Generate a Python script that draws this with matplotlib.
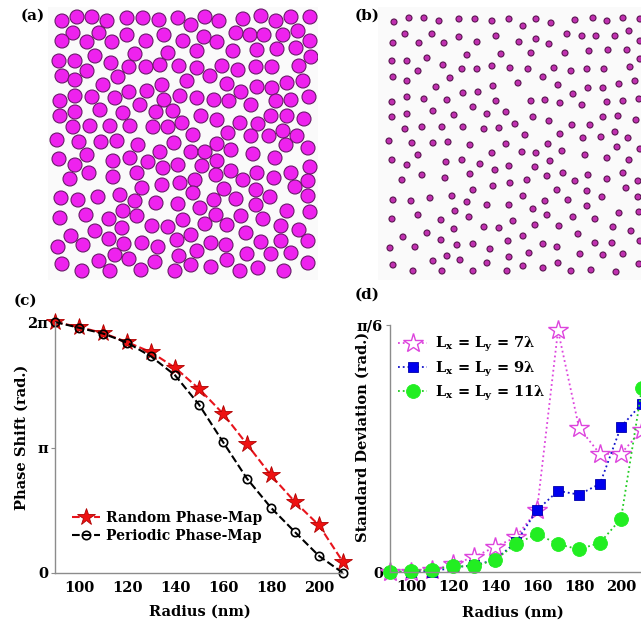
import matplotlib
matplotlib.use("Agg")
import matplotlib.pyplot as plt
import numpy as np
from matplotlib.patches import Circle

# ---- panel (a): dense random array of large pillars (positions in px of the panel) ----
a_x = [9, 24, 39, 54, 74, 90, 106, 125, 20, 46, 9, 34, 59, 74, 93, 111, 130, 42, 82, 115,
       6, 22, 58, 76, 93, 107, 126, 34, 9, 22, 65, 50, 76, 94, 109, 127, 22, 39, 62, 7,
       111, 47, 87, 103, 120, 22, 7, 70, 20, 37, 57, 77, 100, 115, 129, 4, 26, 48, 64, 85,
       121, 34, 6, 60, 77, 107, 95, 22, 110, 125, 36, 84, 60, 17, 109, 127, 89, 8, 25, 45,
       67, 82, 103, 125, 70, 33, 7, 56, 84, 115, 99, 130, 18, 42, 69, 56, 71, 89, 124, 105,
       5, 30, 46, 62, 76, 9, 29, 57, 88, 102, 122, 126,
       152, 166, 190, 208, 223, 238, 257, 138, 183, 197, 211, 230, 245, 151, 164, 257, 144, 180, 204, 224,
       243, 258, 144, 169, 185, 203, 219, 246, 157, 134, 174, 188, 204, 219, 234, 250, 144, 161, 176, 198,
       223, 238, 256, 148, 164, 187, 205, 218, 234, 251, 140, 175, 198, 216, 230, 244, 164, 178, 138, 152,
       200, 222, 233, 255, 164, 149, 178, 163, 204, 190, 221, 238, 257, 142, 171, 203, 217, 140, 161, 183,
       242, 255, 255, 147, 203, 163, 188, 210, 234, 257, 152, 174, 228, 246, 138, 193, 158, 173, 208, 228,
       255, 144, 194, 218, 238, 174, 138, 158, 187, 205, 231, 255]
a_y = [9, 5, 5, 9, 6, 6, 8, 6, 21, 21, 29, 30, 30, 23, 29, 23, 29, 44, 42, 41,
       49, 49, 51, 55, 55, 53, 54, 59, 64, 68, 65, 73, 80, 79, 73, 84, 84, 85, 86, 89,
       88, 98, 93, 100, 99, 100, 104, 101, 115, 114, 114, 114, 115, 115, 111, 128, 130, 130, 129, 133,
       131, 143, 147, 149, 146, 140, 150, 153, 156, 153, 161, 161, 165, 167, 173, 171, 176, 186, 188, 185,
       183, 189, 191, 192, 199, 203, 206, 207, 204, 215, 214, 208, 224, 219, 216, 227, 232, 231, 228, 235,
       235, 233, 249, 243, 247, 252, 259, 259, 258, 250, 259, 244,
       5, 9, 7, 4, 9, 5, 5, 13, 21, 23, 23, 23, 19, 25, 30, 29, 39, 39, 38, 37,
       36, 45, 56, 54, 58, 55, 55, 54, 64, 69, 72, 80, 75, 76, 71, 69, 86, 88, 89, 93,
       89, 88, 85, 104, 108, 111, 112, 104, 104, 107, 123, 121, 124, 124, 119, 124, 132, 138, 140, 140,
       142, 146, 133, 136, 149, 154, 159, 163, 161, 168, 166, 161, 155, 168, 177, 178, 185, 181, 188, 187,
       175, 169, 184, 196, 193, 203, 204, 207, 199, 200, 212, 213, 214, 218, 223, 221, 231, 233, 230, 229,
       229, 239, 242, 242, 241, 248, 253, 255, 259, 256, 259, 251]

# ---- panel (b): same area, small pillars ----
b_x = [11, 26, 41, 56, 76, 92, 109, 126, 22, 49, 10, 36, 61, 76, 94, 113, 84, 118, 44, 9,
       24, 60, 79, 94, 109, 127, 35, 10, 24, 67, 53, 110, 80, 95, 24, 41, 64, 9, 113, 90,
       50, 123, 24, 9, 71, 104, 22, 39, 59, 80, 101, 116, 6, 29, 50, 65, 87, 123, 35, 109,
       9, 63, 79, 97, 24, 112, 126, 39, 87, 19, 62, 110, 127, 90, 10, 28, 47, 69, 84, 104,
       126, 72, 35, 9, 58, 86, 101, 116, 130, 71, 44, 20, 58, 74, 90, 125, 107, 7, 32, 50,
       64, 77, 126, 10, 30, 59, 90, 104, 124,
       140, 153, 168, 192, 210, 224, 240, 257, 136, 153, 166, 184, 199, 213, 232, 246, 257, 148, 182, 206,
       225, 244, 257, 145, 171, 188, 204, 221, 247, 160, 135, 175, 190, 205, 220, 236, 252, 148, 162, 177,
       199, 224, 240, 256, 150, 132, 166, 189, 207, 220, 235, 253, 142, 177, 200, 218, 232, 245, 165, 139,
       153, 179, 202, 224, 234, 246, 257, 167, 152, 180, 164, 205, 240, 144, 192, 224, 255, 174, 204, 243,
       140, 162, 185, 219, 255, 150, 204, 164, 190, 212, 236, 256, 152, 176, 230, 248, 195, 140, 160, 174,
       212, 229, 257, 146, 197, 220, 240, 140, 160, 175, 188, 208, 233, 256]
b_y = [10, 6, 6, 9, 7, 7, 9, 7, 22, 22, 31, 31, 31, 25, 30, 24, 43, 42, 46, 49,
       49, 53, 57, 57, 54, 56, 59, 65, 69, 66, 75, 74, 81, 80, 85, 87, 88, 90, 89, 95,
       99, 100, 102, 105, 103, 102, 117, 115, 115, 115, 117, 116, 129, 131, 131, 130, 133, 132, 143, 141,
       148, 150, 148, 152, 153, 158, 154, 163, 162, 168, 166, 174, 171, 178, 188, 189, 186, 184, 190, 193,
       193, 199, 203, 207, 208, 205, 215, 216, 209, 217, 221, 225, 228, 233, 232, 229, 237, 236, 235, 249,
       244, 248, 245, 253, 259, 259, 259, 251, 259,
       14, 7, 11, 8, 6, 9, 6, 7, 30, 27, 32, 22, 24, 24, 24, 19, 29, 41, 41, 39,
       38, 38, 47, 57, 56, 59, 57, 57, 55, 65, 71, 73, 82, 76, 76, 72, 69, 89, 88, 91,
       93, 90, 89, 87, 105, 112, 109, 113, 113, 105, 104, 108, 123, 122, 126, 125, 120, 126, 132, 140,
       141, 139, 143, 146, 135, 148, 137, 149, 155, 161, 164, 163, 161, 168, 169, 167, 169, 178, 179, 176,
       184, 189, 188, 185, 185, 197, 194, 203, 205, 207, 201, 200, 213, 214, 215, 219, 222, 224, 232, 235,
       231, 231, 229, 241, 242, 243, 242, 254, 256, 251, 259, 258, 260, 252]

# ---- panel (c): phase shift vs radius ----
radius = [90, 100, 110, 120, 130, 140, 150, 160, 170, 180, 190, 200, 210]
phase_random = [6.283, 6.158, 6.007, 5.781, 5.529, 5.140, 4.612, 3.990, 3.223, 2.444, 1.778, 1.194, 0.276]
phase_periodic = [6.283, 6.139, 5.994, 5.768, 5.422, 4.951, 4.216, 3.280, 2.362, 1.634, 1.024, 0.427, 0.0]

# ---- panel (d): standard deviation vs radius ----
std_7 = [0.0, 0.0, 0.004, 0.016, 0.032, 0.053, 0.074, 0.131, 0.512, 0.306, 0.250, 0.251, 0.301]
std_9 = [0.0, 0.0, 0.0, 0.010, 0.014, 0.026, 0.063, 0.131, 0.172, 0.164, 0.187, 0.308, 0.357]
std_11 = [0.0, 0.002, 0.005, 0.012, 0.012, 0.026, 0.059, 0.081, 0.059, 0.048, 0.062, 0.113, 0.391]

plt.rcParams["font.family"] = ["DejaVu Serif"]
plt.rcParams["font.weight"] = "bold"
plt.rcParams["mathtext.fontset"] = "dejavuserif"

W, H = 641, 623
fig = plt.figure(figsize=(W / 100, H / 100), dpi=100)


def px_axes(left, top, right, bottom):
    return fig.add_axes([left / W, 1 - bottom / H, (right - left) / W, (bottom - top) / H])


def pillar_panel(ax, xs, ys, r, fc, ec):
    for x, y in zip(xs, ys):
        ax.add_patch(Circle((x, y), r, facecolor=fc, edgecolor=ec, lw=0.8))
    ax.set_xlim(-5, 265)
    ax.set_ylim(268, -5)
    ax.set_facecolor("#fafafa")
    ax.set_xticks([])
    ax.set_yticks([])
    for s in ax.spines.values():
        s.set_visible(False)


ax_a = px_axes(48, 7, 318, 280)
pillar_panel(ax_a, a_x, a_y, 7.0, "#ee22ee", "#6a1a6a")
ax_b = px_axes(378, 7, 648, 280)
pillar_panel(ax_b, b_x, b_y, 3.0, "#c030b0", "#5a1450")


def style_axes(ax):
    for side in ["top", "right"]:
        ax.spines[side].set_visible(False)
    for side in ["left", "bottom"]:
        ax.spines[side].set_color("#8c8c8c")
        ax.spines[side].set_linewidth(1.0)
    ax.tick_params(axis="x", length=0, pad=6, labelsize=10.5)
    ax.tick_params(axis="y", length=3, color="#8c8c8c", pad=2, labelsize=10.5)
    for lab in ax.get_xticklabels() + ax.get_yticklabels():
        lab.set_fontweight("bold")


# (c)
ax_c = px_axes(55, 322, 343, 573)
ax_c.plot(radius, phase_random, "--", color="#e8141c", lw=1.5, marker="*", ms=13,
          mfc="#ee1111", mec="#b00000", mew=0.6, clip_on=False, label="Random Phase-Map")
ax_c.plot(radius, phase_periodic, "--", color="black", lw=1.5, marker="o", ms=6,
          mfc="none", mec="black", mew=1.2, clip_on=False, label="Periodic Phase-Map")
ax_c.set_xlim(90, 210)
ax_c.set_ylim(0, 2 * np.pi)
ax_c.set_xticks([100, 120, 140, 160, 180, 200])
ax_c.set_yticks([0, np.pi, 2 * np.pi])
ax_c.set_yticklabels(["0", "π", "2π"])
style_axes(ax_c)
ax_c.set_xlabel("Radius (nm)", fontsize=10.5, fontweight="bold", va="center")
ax_c.set_ylabel("Phase Shift (rad.)", fontsize=10.5, fontweight="bold", va="center")
ax_c.xaxis.set_label_coords(0.503, -0.155)
ax_c.yaxis.set_label_coords(-0.115, 0.542)
ax_c.legend(loc="lower left", bbox_to_anchor=(0.06, 0.12), frameon=False, fontsize=10,
            borderaxespad=0, borderpad=0, handlelength=2.0, handletextpad=0.4, labelspacing=0.3)

# (d) - the right part runs past the figure edge, as in the source image
ax_d = px_axes(390, 325, 663, 572)
ax_d.plot(radius, std_7, ":", color="#dd44dd", lw=1.3, marker="*", ms=15, mfc="white",
          mec="#dd44dd", mew=1.0, clip_on=False, label=r"L$_\mathbf{x}$ = L$_\mathbf{y}$ = 7λ")
ax_d.plot(radius, std_9, ":", color="#1414cc", lw=1.3, marker="s", ms=7, mfc="#0000ee",
          mec="#0000aa", mew=0.6, clip_on=False, label=r"L$_\mathbf{x}$ = L$_\mathbf{y}$ = 9λ")
ax_d.plot(radius, std_11, ":", color="#22cc22", lw=1.3, marker="o", ms=10, mfc="#22ee22",
          mec="#22ee22", mew=0.6, clip_on=False, label=r"L$_\mathbf{x}$ = L$_\mathbf{y}$ = 11λ")
ax_d.set_xlim(90, 220)
ax_d.set_ylim(0, np.pi / 6)
ax_d.set_xticks([100, 120, 140, 160, 180, 200])
ax_d.set_yticks([0, np.pi / 6])
ax_d.set_yticklabels(["0", "π/6"])
style_axes(ax_d)
ax_d.set_xlabel("Radius (nm)", fontsize=10.5, fontweight="bold", va="center")
ax_d.set_ylabel("Standard Deviation (rad.)", fontsize=10.5, fontweight="bold", va="center")
ax_d.xaxis.set_label_coords(0.45, -0.163)
ax_d.yaxis.set_label_coords(-0.099, 0.546)
ax_d.legend(loc="upper left", bbox_to_anchor=(0.03, 0.96), frameon=False, fontsize=10.5,
            borderaxespad=0, borderpad=0, handlelength=2.0, handletextpad=0.5, labelspacing=0.35)

# panel letters
for lbl, x, y in [("(a)", 33, 16), ("(b)", 367, 16), ("(c)", 25, 301), ("(d)", 367, 295)]:
    fig.text(x / W, 1 - y / H, lbl, ha="center", va="center", fontsize=11, fontweight="bold")

fig.savefig("out.png", dpi=100)
